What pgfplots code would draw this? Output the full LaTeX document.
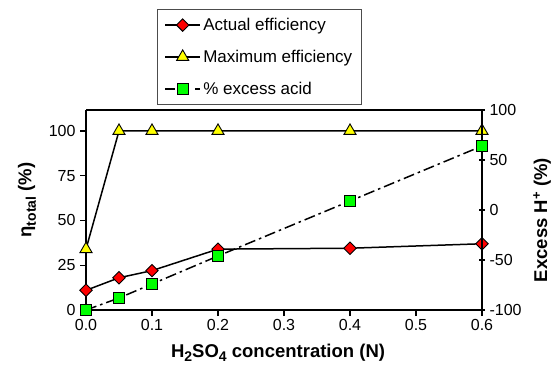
\documentclass[border=0pt]{standalone}
\usepackage{fontspec}
\setmainfont{Liberation Sans}
\usepackage{pgfplots}
\pgfplotsset{compat=1.18}
\definecolor{mkred}{RGB}{255,0,0}
\definecolor{mkyellow}{RGB}{255,255,0}
\definecolor{mkgreen}{RGB}{0,255,0}
\newcommand{\tickfont}{\fontsize{16bp}{18bp}\selectfont}
\newcommand{\labfont}{\fontsize{18.5bp}{21bp}\selectfont\bfseries}
\newcommand{\legfont}{\fontsize{17bp}{19bp}\selectfont}
% lowered subscript at a larger size than \textsubscript gives
\newcommand{\lsub}[1]{\raisebox{-0.45ex}{\fontsize{14bp}{15bp}\selectfont\bfseries #1}}
\begin{document}
\begin{tikzpicture}[x=1bp,y=1bp]
\useasboundingbox (0,0) rectangle (557,368);
\pgfplotsset{
  common/.style={
    at={(86bp,58bp)}, anchor=south west, scale only axis,
    width=396bp, height=200bp,
    xmin=0, xmax=0.6, clip=false,
    /pgf/number format/assume math mode=true,
    tick label style={font=\tickfont},
    axis line style={line width=1.2bp},
    major tick style={line width=1.2bp, black},
    major tick length=6bp,
  },
}
\begin{axis}[common,
  ymin=0, ymax=111.7,
  axis y line*=left, axis x line*=bottom,
  xtick={0,0.1,0.2,0.3,0.4,0.5,0.6},
  ytick={0,25,50,75,100},
  tick align=outside,
  xticklabel style={/pgf/number format/.cd,fixed,fixed zerofill,precision=1},
  yticklabel style={xshift=-1bp},
  xlabel={H\lsub{2}SO\lsub{4} concentration (N)},
  xlabel style={font=\labfont, at={(axis description cs:0.485,-0.215)}, anchor=center},
  ylabel={η\lsub{total} (\%)},
  ylabel style={font=\labfont, at={(axis description cs:-0.149,0.55)}, anchor=center},
  legend style={at={(axis description cs:0.179,1.505)}, anchor=north west,
    draw=black!70, row sep=14bp, inner xsep=7bp, inner ysep=7bp,
    font=\legfont, cells={anchor=west}},
  legend image code/.code={%
    \draw[#1,line width=2.2bp,mark repeat=2,mark phase=2] plot coordinates {(0bp,0bp) (17.5bp,0bp) (35bp,0bp)};},
]
% top border of the frame
\draw[line width=1.2bp] (axis cs:0,111.7) -- (axis cs:0.6,111.7);
\addplot[black, line width=1.5bp, mark=square*, mark size=4.4bp,
  mark options={rotate=45, fill=mkred, draw=black, line width=0.9bp, solid}]
  coordinates {(0,11) (0.05,18) (0.1,22) (0.2,34) (0.4,34.5) (0.6,37)};
\addlegendentry{Actual efficiency}
\addplot[black, line width=1.5bp, mark=triangle*, mark size=7bp,
  mark options={fill=mkyellow, draw=black, line width=0.9bp, solid}]
  coordinates {(0,34) (0.05,100) (0.1,100) (0.2,100) (0.4,100) (0.6,100)};
\addlegendentry{Maximum efficiency\hspace{14bp}}
\addlegendimage{black, dash pattern=on 10bp off 20bp, mark=square*, mark size=5.5bp,
  mark options={fill=mkgreen, draw=black, line width=0.9bp, solid}}
\addlegendentry{\% excess acid}
\end{axis}
\begin{axis}[common,
  ymin=-100, ymax=100,
  axis y line*=right, axis x line=none,
  ytick={-100,-50,0,50,100},
  tick align=center,
  yticklabel style={xshift=1bp},
  ylabel={Excess H\textsuperscript{+} (\%)},
  ylabel style={font=\labfont, at={(axis description cs:1.152,0.45)}, anchor=center},
]
\addplot[black, line width=1.5bp, dash pattern=on 11bp off 4bp on 2.5bp off 4bp,
  mark=square*, mark size=5.5bp,
  mark options={fill=mkgreen, draw=black, line width=0.9bp, solid}]
  coordinates {(0,-100) (0.05,-88) (0.1,-74) (0.2,-46) (0.4,9) (0.6,64)};
\end{axis}
\end{tikzpicture}
\end{document}
